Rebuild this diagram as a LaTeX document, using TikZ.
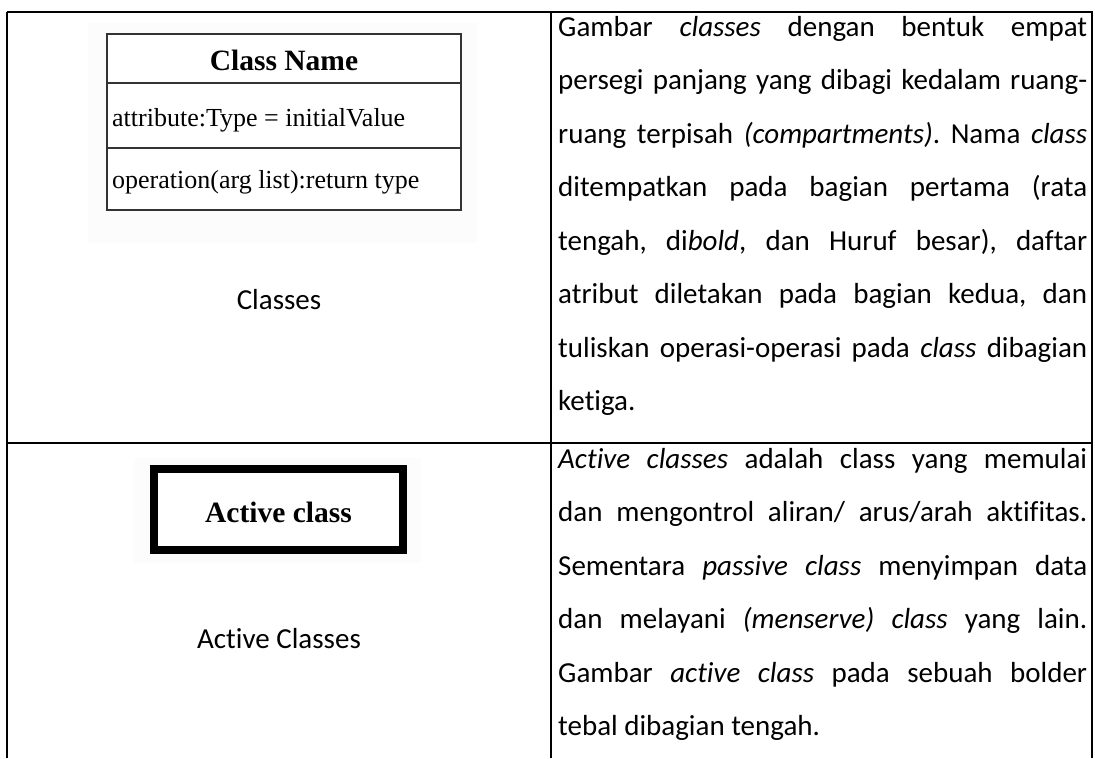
\documentclass[tikz,border=0pt]{standalone}
\usepackage{fontspec}
\setmainfont{Carlito}[Ligatures={NoCommon}]
\newfontfamily\umlfont{Liberation Serif}
\frenchspacing
\newcommand{\jline}[1]{\makebox[529pt][s]{#1}}
\newcommand{\lline}[1]{\makebox[529pt][l]{#1}}
\tikzset{
  tline/.style={line width=1.5pt, black},
  bodytext/.style={inner sep=0pt, anchor=base west, font=\fontsize{29pt}{35pt}\selectfont},
  celltext/.style={inner sep=0pt, anchor=base, font=\fontsize{29pt}{35pt}\selectfont},
  umltext/.style={inner sep=0pt, anchor=base west, font=\umlfont\fontsize{26pt}{30pt}\selectfont},
  umltitle/.style={inner sep=0pt, anchor=base, font=\umlfont\bfseries\fontsize{29.5pt}{33pt}\selectfont},
  imgbg/.style={fill=black!1, draw=none},
  umlbox/.style={line width=2pt, draw=black!80},
  activebox/.style={line width=8pt, draw=black},
}
\begin{document}
\begin{tikzpicture}[x=1pt,y=-1pt]
\useasboundingbox (0,0) rectangle (1095,758);
% table grid
\draw[tline, line width=2pt] (7,758) -- (7,12);
\draw[tline] (7,12) -- (1092,12) -- (1092,758);
\draw[tline] (551,12) -- (551,758);
\draw[tline] (7,443) -- (1092,443);

% class symbol
\fill[imgbg] (88,23) rectangle (477,243);
\draw[umlbox, fill=white] (107,34) rectangle (461,210);
\draw[umlbox] (107,83) -- (461,83);
\draw[umlbox] (107,148) -- (461,148);
\node[umltitle] (cname) at (284,70) {Class Name};
\node[umltext] (attr) at (112,126) {attribute:Type = initialValue};
\node[umltext] (oper) at (112,188) {operation(arg list):return type};
\node[celltext] (lblA) at (279,309) {Classes};

% active class symbol
\fill[imgbg] (134,458) rectangle (421,563);
\draw[activebox, fill=white] (154,469) rectangle (403,550);
\node[umltitle] (aname) at (278.5,522) {Active class};
\node[celltext] (lblB) at (279,648) {Active Classes};

% right column, row 1
\node[bodytext] (a1) at (558,36)    {\jline{Gambar \textit{classes} dengan bentuk empat}};
\node[bodytext] (a2) at (558,89.5)  {\jline{persegi panjang yang dibagi kedalam ruang-}};
\node[bodytext] (a3) at (558,143)   {\jline{ruang terpisah \textit{(compartments)}. Nama \textit{class}}};
\node[bodytext] (a4) at (558,196.5) {\jline{ditempatkan pada bagian pertama (rata}};
\node[bodytext] (a5) at (558,250)   {\jline{tengah, di\textit{bold}, dan Huruf besar), daftar}};
\node[bodytext] (a6) at (558,303.5) {\jline{atribut diletakan pada bagian kedua, dan}};
\node[bodytext] (a7) at (558,357)   {\jline{tuliskan operasi-operasi pada \textit{class} dibagian}};
\node[bodytext] (a8) at (558,410.5) {\lline{ketiga.}};

% right column, row 2
\node[bodytext] (b1) at (558,468)   {\jline{\textit{Active classes} adalah class yang memulai}};
\node[bodytext] (b2) at (558,521.5) {\jline{dan mengontrol aliran/ arus/arah aktifitas.}};
\node[bodytext] (b3) at (558,575)   {\jline{Sementara \textit{passive class} menyimpan data}};
\node[bodytext] (b4) at (558,628.5) {\jline{dan melayani \textit{(menserve) class} yang lain.}};
\node[bodytext] (b5) at (558,682)   {\jline{Gambar \textit{active class} pada sebuah bolder}};
\node[bodytext] (b6) at (558,735.5) {\lline{tebal dibagian tengah.}};
\end{tikzpicture}
\end{document}
